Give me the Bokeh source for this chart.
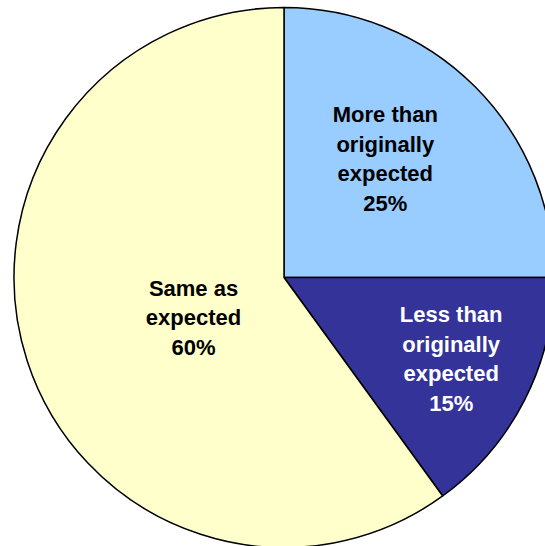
import math
from bokeh.plotting import figure
from bokeh.models import ColumnDataSource, Range1d
from bokeh.core.properties import value
from bokeh.embed import file_html
from bokeh.resources import INLINE

# Survey answer shares, in clockwise order from 12 o'clock
categories = ["More than\noriginally\nexpected", "Less than\noriginally\nexpected", "Same as\nexpected"]
shares = [25, 15, 60]
colors = ["#99CCFF", "#333399", "#FFFFCC"]
label_colors = ["black", "white", "black"]

# layout (pixel units, y up)
W, H = 545, 546
CX, CY, R = 283.5, 269.0, 270.0
label_dist = [156, 186, 99]
label_shift = [4.5, 1.0, 6.0]   # degrees nudged off each slice's mid-angle

total = float(sum(shares))
starts, ends, lx, ly, texts = [], [], [], [], []
cum = 0.0
for cat, s, d, sh in zip(categories, shares, label_dist, label_shift):
    a_hi = math.pi / 2 - 2 * math.pi * cum / total
    cum += s
    a_lo = math.pi / 2 - 2 * math.pi * cum / total
    starts.append(a_lo)
    ends.append(a_hi)
    mid = (a_lo + a_hi) / 2 + math.radians(sh)
    lx.append(CX + d * math.cos(mid))
    ly.append(CY + d * math.sin(mid))
    texts.append(f"{cat}\n{s}%")

src = ColumnDataSource(dict(start=starts, end=ends, color=colors,
                            lx=lx, ly=ly, text=texts, tcolor=label_colors))

p = figure(width=W, height=H, output_backend="svg", toolbar_location=None,
           x_range=Range1d(0, W), y_range=Range1d(0, H), min_border=0)
p.axis.visible = False
p.grid.visible = False
p.outline_line_color = None
p.background_fill_color = "white"

p.wedge(x=CX, y=CY, radius=R, start_angle="start", end_angle="end",
        fill_color="color", line_color="black", line_width=1.5, source=src)

p.text(x="lx", y="ly", text="text", source=src, text_color="tcolor",
       text_font=value("Liberation Sans"), text_font_style="bold",
       text_font_size="22px", text_align="center", text_baseline="middle",
       text_line_height=1.18)

open("out.html", "w").write(file_html(p, INLINE))
